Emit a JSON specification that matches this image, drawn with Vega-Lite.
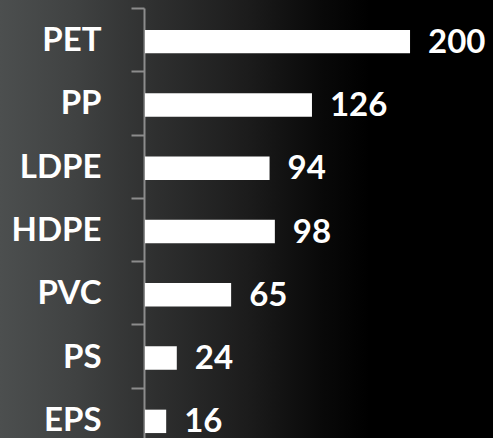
{
  "$schema": "https://vega.github.io/schema/vega-lite/v6.json",
  "width": 493,
  "height": 438,
  "autosize": {"type": "none"},
  "padding": 0,
  "background": "#000000",
  "view": {
    "stroke": null,
    "fill": {
      "gradient": "linear",
      "x1": 0, "y1": 0, "x2": 1, "y2": 0,
      "stops": [
        {"offset": 0, "color": "#4c4f4f"},
        {"offset": 0.15, "color": "#404242"},
        {"offset": 0.3, "color": "#303131"},
        {"offset": 0.5, "color": "#1c1c1c"},
        {"offset": 0.65, "color": "#090909"},
        {"offset": 0.75, "color": "#000000"},
        {"offset": 1, "color": "#000000"}
      ]
    }
  },
  "data": {
    "values": [
      {"polymer": "PET", "value": 200},
      {"polymer": "PP", "value": 126},
      {"polymer": "LDPE", "value": 94},
      {"polymer": "HDPE", "value": 98},
      {"polymer": "PVC", "value": 65},
      {"polymer": "PS", "value": 24},
      {"polymer": "EPS", "value": 16}
    ]
  },
  "encoding": {
    "y": {
      "field": "polymer",
      "type": "nominal",
      "sort": null,
      "scale": {"range": [8, 451], "paddingInner": 0, "paddingOuter": 0},
      "axis": {
        "title": null,
        "offset": -144,
        "domainColor": "#8c8c8c",
        "domainWidth": 2,
        "tickColor": "#8c8c8c",
        "tickWidth": 2,
        "tickSize": 13,
        "tickBand": "extent",
        "labelColor": "#ffffff",
        "labelFont": "Lato",
        "labelFontWeight": "bold",
        "labelFontSize": 33,
        "labelPadding": 30,
        "labelOffset": 1
      }
    }
  },
  "layer": [
    {
      "mark": {"type": "bar", "color": "#ffffff", "height": {"band": 0.37}, "yOffset": 2},
      "encoding": {
        "x": {
          "field": "value",
          "type": "quantitative",
          "scale": {"domain": [-109.4, 262.6], "nice": false, "zero": false},
          "axis": null
        },
        "x2": {"datum": 0}
      }
    },
    {
      "mark": {
        "type": "text",
        "align": "left",
        "baseline": "middle",
        "dx": 18,
        "dy": 3,
        "color": "#ffffff",
        "font": "Lato",
        "fontWeight": "bold",
        "fontSize": 33
      },
      "encoding": {
        "x": {"field": "value", "type": "quantitative"},
        "text": {"field": "value", "type": "quantitative"}
      }
    }
  ]
}
